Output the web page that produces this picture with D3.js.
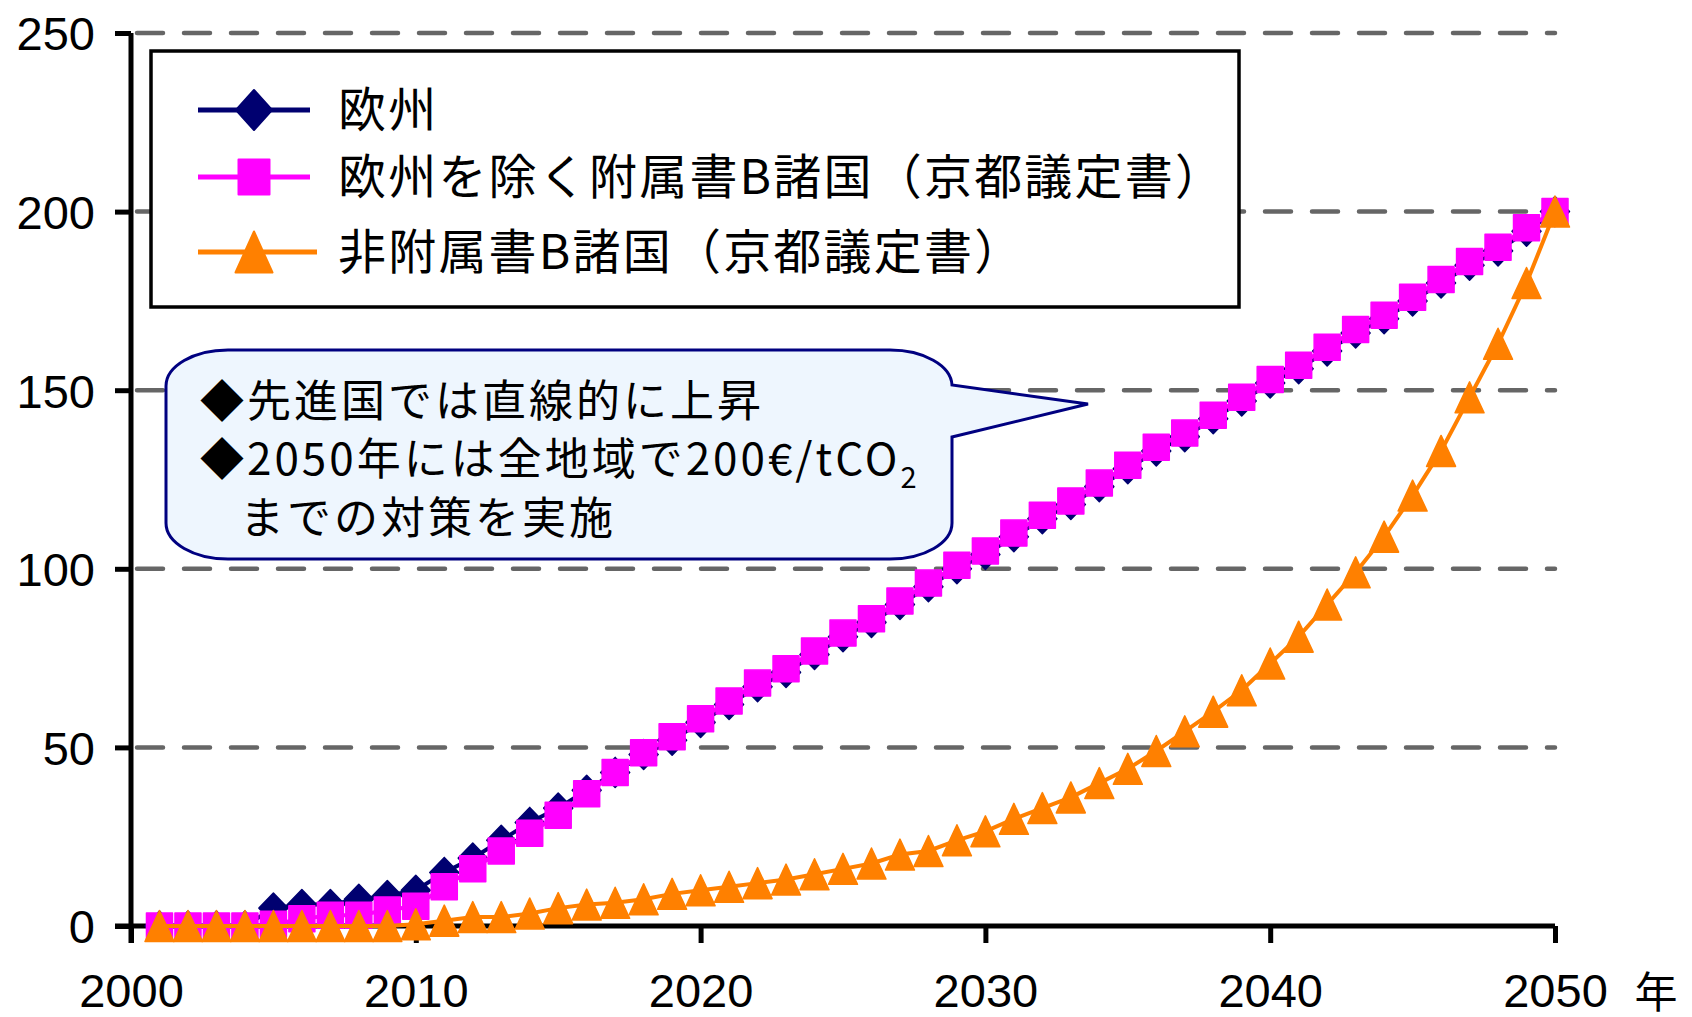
<!DOCTYPE html>
<html>
<head>
<meta charset="utf-8">
<script src="https://cdn.jsdelivr.net/npm/d3@7"></script>
<style>
  body { margin: 0; background: #fff; }
  svg { display: block; }
  .jp { font-family: "Noto Sans CJK JP", "Noto Sans CJK SC", sans-serif; }
  .num { font-family: "Liberation Sans", Arial, sans-serif; }
</style>
</head>
<body>
<div id="chart"></div>
<script>
// years 2001..2050
var years = d3.range(2001, 2051);

// 欧州
var europe = [0, 0, 0, 0, 5, 6, 6, 7.5, 8.5, 10,
              15, 19, 24, 29, 33, 38, 43, 48, 52, 57,
              62, 67, 71, 76, 81, 85, 90, 95, 100, 104,
              109, 114, 118, 123, 128, 133, 137, 142, 147, 152,
              156, 161, 166, 170, 175, 180, 185, 189, 194.5, 200];

// 欧州を除く附属書B諸国
var annexB = [0, 0, 0, 0, 0.5, 2, 3, 3, 4.5, 5.5,
              11, 16, 21, 26, 31, 37, 43, 48.5, 53, 58,
              63, 68, 72, 77, 82, 86, 91, 96, 101, 105,
              110, 115, 119, 124, 129, 134, 138, 143, 148, 153,
              157, 162, 167, 171, 176, 181, 186, 190, 195.5, 200];

// 非附属書B諸国
var nonAnnexB = [0, 0, 0, 0, 0, 0, 0, 0, 0, 0.5,
                 1.5, 2.5, 2.5, 3.5, 5, 6, 6.5, 7.5, 9, 10,
                 11, 12, 13, 14.5, 16, 17.5, 20, 21, 24, 26.5,
                 30, 33, 36, 40, 44, 49, 54.5, 60, 66, 73.5,
                 81, 90, 99, 109, 120.5, 133, 148, 163, 180, 200];

var seriesNames = ["欧州", "欧州を除く附属書B諸国（京都議定書）", "非附属書B諸国（京都議定書）"];
var seriesColors = ["#000070", "#ff00ff", "#ff8000"];
var seriesShapes = ["diamond", "square", "triangle"];
var seriesValues = [europe, annexB, nonAnnexB];

var yTicks = [0, 50, 100, 150, 200, 250];
var xTicks = [2000, 2010, 2020, 2030, 2040, 2050];
var xUnit = "年";

var calloutLines = ["◆先進国では直線的に上昇", "◆2050年には全地域で200€/tCO", "までの対策を実施"];

var svgWidth = 1692, svgHeight = 1017;

var x = d3.scaleLinear().domain([2000, 2050]).range([131, 1555]);
var y = d3.scaleLinear().domain([0, 250]).range([926, 33]);

var svg = d3.select("#chart").append("svg")
    .attr("width", svgWidth)
    .attr("height", svgHeight);

// dashed gridlines
svg.append("g").selectAll("line")
    .data(yTicks.filter(function(d){ return d > 0; }))
    .enter().append("line")
    .attr("x1", x(2000) + 6)
    .attr("x2", x(2050))
    .attr("y1", function(d){ return y(d); })
    .attr("y2", function(d){ return y(d); })
    .attr("stroke", "#666")
    .attr("stroke-width", 4.5)
    .attr("stroke-linecap", "round")
    .attr("stroke-dasharray", "26,21");

// axes
var yAxis = d3.axisLeft(y).tickValues(yTicks).tickSize(16).tickPadding(20).tickFormat(d3.format("d"));
var xAxis = d3.axisBottom(x).tickValues(xTicks).tickSize(17).tickPadding(31).tickFormat(d3.format("d"));

var yAxisG = svg.append("g")
    .attr("transform", "translate(" + x(2000) + ",0)")
    .call(yAxis);
var xAxisG = svg.append("g")
    .attr("transform", "translate(0," + y(0) + ")")
    .call(xAxis);

[yAxisG, xAxisG].forEach(function(g){
    g.select(".domain").attr("stroke", "#000").attr("stroke-width", 5);
    g.selectAll(".tick line").attr("stroke", "#000").attr("stroke-width", 5);
    g.selectAll(".tick text")
        .attr("class", "num")
        .attr("fill", "#000")
        .attr("font-size", 47);
});
yAxisG.select(".domain").attr("d", "M0," + y(250) + "V" + (y(0) + 17));
xAxisG.select(".domain").attr("d", "M" + (x(2000) - 16) + ",0H" + x(2050));
yAxisG.selectAll(".tick text").attr("dy", "0.36em");

svg.append("text")
    .attr("class", "jp")
    .attr("x", 1656)
    .attr("y", 1008)
    .attr("text-anchor", "middle")
    .attr("font-size", 43)
    .text(xUnit);

// marker shapes (centered at 0,0)
function markerPath(shape, w, h){
    var hw = w / 2, hh = h / 2;
    if (shape == "diamond") {
        return "M0," + (-hh) + "L" + hw + ",0L0," + hh + "L" + (-hw) + ",0Z";
    } else if (shape == "square") {
        return "M" + (-hw) + "," + (-hh) + "H" + hw + "V" + hh + "H" + (-hw) + "Z";
    } else {
        return "M0," + (-hh) + "L" + hw + "," + hh + "H" + (-hw) + "Z";
    }
}
var markerSize = {diamond: [29, 30], square: [26, 26], triangle: [29, 31]};

var line = d3.line()
    .x(function(d){ return x(d.year); })
    .y(function(d){ return y(d.value); })
    .curve(d3.curveLinear);

seriesValues.forEach(function(vals, i){
    var pts = years.map(function(yr, j){ return {year: yr, value: vals[j]}; });
    var g = svg.append("g").attr("class", "series" + i);
    g.append("path")
        .attr("fill", "none")
        .attr("stroke", seriesColors[i])
        .attr("stroke-width", 4)
        .attr("d", line(pts));
    var sz = markerSize[seriesShapes[i]];
    g.selectAll("path.m")
        .data(pts)
        .enter().append("path")
        .attr("class", "m")
        .attr("transform", function(d){ return "translate(" + x(d.year) + "," + y(d.value) + ")"; })
        .attr("d", markerPath(seriesShapes[i], sz[0], sz[1]))
        .attr("fill", seriesColors[i])
        .attr("stroke", seriesColors[i])
        .attr("stroke-width", 1.5)
        .attr("stroke-linejoin", "round");
});

// legend
var legend = svg.append("g");
legend.append("rect")
    .attr("x", 151).attr("y", 51)
    .attr("width", 1088).attr("height", 256)
    .attr("fill", "#fff")
    .attr("stroke", "#000")
    .attr("stroke-width", 3.5);

var legendRows = [110, 177, 252];
var legendMarker = {diamond: [36, 40], square: [31, 35], triangle: [37, 41]};
seriesNames.forEach(function(name, i){
    var ly = legendRows[i];
    legend.append("line")
        .attr("x1", 198).attr("x2", i == 2 ? 317 : 310)
        .attr("y1", ly).attr("y2", ly)
        .attr("stroke", seriesColors[i])
        .attr("stroke-width", 5);
    var sz = legendMarker[seriesShapes[i]];
    legend.append("path")
        .attr("transform", "translate(254," + ly + ")")
        .attr("d", markerPath(seriesShapes[i], sz[0], sz[1]))
        .attr("fill", seriesColors[i])
        .attr("stroke", seriesColors[i])
        .attr("stroke-width", 2)
        .attr("stroke-linejoin", "round");
    legend.append("text")
        .attr("class", "jp")
        .attr("x", 338)
        .attr("y", ly)
        .attr("dy", "0.36em")
        .attr("font-size", 48)
        .attr("letter-spacing", 2.2)
        .text(name);
});

// callout balloon
var L = 166, T = 350, R = 952, B = 559, rx = 62, ry = 36;
var tipX = 1088, tipY = 404, baseTop = 385, baseBot = 437;
var balloon = "M" + (L + rx) + "," + T +
    "H" + (R - rx) +
    "A" + rx + "," + ry + " 0 0 1 " + R + "," + baseTop +
    "L" + tipX + "," + tipY +
    "L" + R + "," + baseBot +
    "V" + (B - ry) +
    "A" + rx + "," + ry + " 0 0 1 " + (R - rx) + "," + B +
    "H" + (L + rx) +
    "A" + rx + "," + ry + " 0 0 1 " + L + "," + (B - ry) +
    "V" + (T + ry) +
    "A" + rx + "," + ry + " 0 0 1 " + (L + rx) + "," + T + "Z";
svg.append("path")
    .attr("d", balloon)
    .attr("fill", "#eef6fe")
    .attr("stroke", "#000080")
    .attr("stroke-width", 3);

var callout = svg.append("g").attr("class", "jp").attr("font-size", 44).attr("letter-spacing", 3);
var lineY = [401, 459, 518];
var lineX = [200, 200, 240];
calloutLines.forEach(function(t, i){
    var tx = callout.append("text")
        .attr("x", lineX[i])
        .attr("y", lineY[i])
        .attr("dy", "0.36em")
        .text(t);
    if (i == 1) {
        tx.append("tspan")
            .attr("font-size", 29)
            .attr("dy", "0.45em")
            .text("2");
    }
});
</script>
</body>
</html>
